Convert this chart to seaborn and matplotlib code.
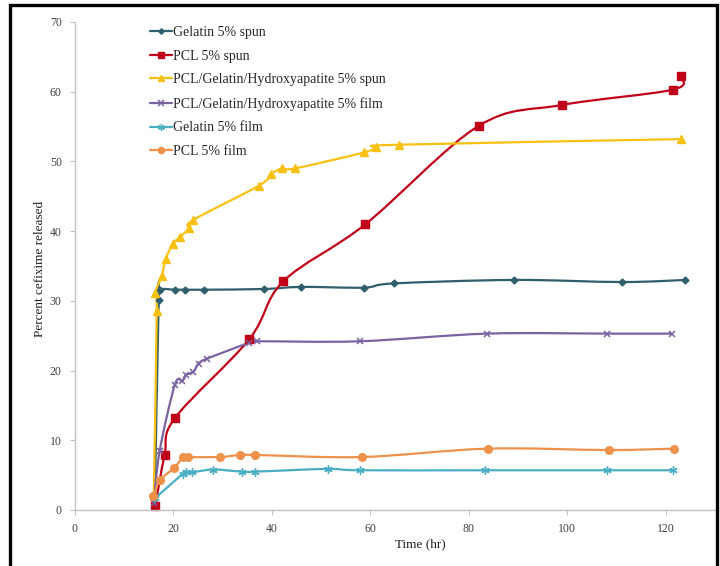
import numpy as np
import pandas as pd
import seaborn as sns
import matplotlib.pyplot as plt
from matplotlib.path import Path
from matplotlib.patches import PathPatch, Rectangle
from matplotlib.lines import Line2D

# release data (time in hr, percent released)
gel_spun_t = [16.2, 17.0, 17.3, 20.3, 22.4, 26.2, 38.4, 45.9, 58.7, 64.7, 89.1, 111.1, 124.0]
gel_spun_y = [0.8, 30.1, 31.6, 31.6, 31.6, 31.6, 31.7, 32.0, 31.9, 32.5, 33.0, 32.7, 33.0]

pcl_spun_t = [16.3, 18.2, 20.3, 35.4, 42.3, 59.0, 82.0, 98.9, 121.5, 123.0]
pcl_spun_y = [0.6, 7.9, 13.2, 24.5, 32.8, 41.0, 55.1, 58.1, 60.3, 62.2]

pgh_spun_t = [16.0, 16.6, 16.3, 17.6, 18.4, 19.9, 21.4, 23.2, 24.0, 37.3, 39.9, 42.1, 44.7, 58.8, 61.2, 65.9, 123.0]
pgh_spun_y = [2.0, 28.5, 31.1, 33.5, 36.0, 38.2, 39.2, 40.4, 41.6, 46.5, 48.2, 49.0, 49.0, 51.3, 52.0, 52.4, 53.2]

pgh_film_t = [16.0, 17.2, 20.3, 21.8, 22.6, 24.0, 25.1, 26.8, 35.4, 37.0, 57.8, 83.7, 108.1, 121.3]
pgh_film_y = [1.0, 8.5, 18.0, 18.5, 19.4, 19.8, 21.0, 21.7, 24.0, 24.2, 24.2, 25.3, 25.3, 25.3]

gel_film_t = [16.3, 21.9, 22.6, 23.7, 28.1, 33.9, 36.6, 51.3, 57.8, 83.3, 108.1, 121.5]
gel_film_y = [1.7, 5.2, 5.4, 5.4, 5.8, 5.5, 5.5, 5.9, 5.7, 5.7, 5.7, 5.7]

pcl_film_t = [15.9, 17.3, 20.1, 22.0, 22.9, 29.5, 33.5, 36.6, 58.3, 83.8, 108.4, 121.6]
pcl_film_y = [2.0, 4.3, 6.0, 7.6, 7.6, 7.6, 7.9, 7.9, 7.6, 8.8, 8.6, 8.8]

labels = ["Gelatin 5% spun", "PCL 5% spun", "PCL/Gelatin/Hydroxyapatite 5% spun",
          "PCL/Gelatin/Hydroxyapatite 5% film", "Gelatin 5% film", "PCL 5% film"]

sns.set_theme(style="white")
plt.rcParams['font.family'] = ['Liberation Serif', 'DejaVu Serif']


def smooth_path(x, y):
    # Excel style smoothed line: cubic bezier segments through the points
    pts = np.column_stack([x, y]).astype(float)
    n = len(pts)
    verts = [pts[0]]
    codes = [Path.MOVETO]
    for i in range(n - 1):
        p0 = pts[i - 1] if i > 0 else pts[i]
        p1 = pts[i]
        p2 = pts[i + 1]
        p3 = pts[i + 2] if i + 2 < n else pts[i + 1]
        verts += [p1 + (p2 - p0) / 6, p2 - (p3 - p1) / 6, p2]
        codes += [Path.CURVE4] * 3
    return Path(verts, codes)


series = [
    (gel_spun_t, gel_spun_y, '#2F5E6C', 'D', 3.5, 1.0),
    (pcl_spun_t, pcl_spun_y, '#C00018', 's', 5.5, 1.0),
    (pgh_spun_t, pgh_spun_y, '#F8C010', '^', 6, 1.0),
    (pgh_film_t, pgh_film_y, '#7A63A0', 'x', 5, 1.1),
    (gel_film_t, gel_film_y, '#4AAEC4', (6, 2, 0), 6, 1.0),
    (pcl_film_t, pcl_film_y, '#EE914A', 'o', 5.5, 1.0),
]

fig = plt.figure(figsize=(7.2, 5.66), dpi=100)
ax = fig.add_axes([75 / 720, 1 - 510 / 566, 640 / 720, 488 / 566])

handles = []
for (t, y, col, mk, ms, mew), lab in zip(series, labels):
    ax.add_patch(PathPatch(smooth_path(t, y), fill=False, edgecolor=col, lw=1.6,
                           capstyle='round', joinstyle='round'))
    df = pd.DataFrame({'t': t, 'y': y})
    sns.lineplot(data=df, x='t', y='y', ax=ax, sort=False, estimator=None,
                 linestyle='', marker=mk, markersize=ms, color=col,
                 markeredgecolor=col, markeredgewidth=mew, clip_on=False)
    handles.append(Line2D([], [], color=col, lw=1.6, marker=mk, markersize=ms * 0.8,
                          markeredgecolor=col, markeredgewidth=mew, label=lab))

ax.set_xlim(0, 130)
ax.set_ylim(0, 70)
ax.set_xticks(range(0, 121, 20))
ax.set_yticks(range(0, 71, 10))
for side in ['top', 'right']:
    ax.spines[side].set_visible(False)
for side in ['left', 'bottom']:
    ax.spines[side].set_color('#C0C0C0')
    ax.spines[side].set_linewidth(1.0)
ax.tick_params(axis='both', direction='out', length=3.5, width=0.8, color='#C0C0C0',
               labelsize=8.5, labelcolor='#404040')
ax.tick_params(axis='y', pad=6, left=True)
ax.tick_params(axis='x', pad=6, bottom=True)

ax.set_xlabel('Time (hr)', fontsize=9.5, color='#202020')
ax.set_ylabel('Percent cefixime released', fontsize=9.5, color='#202020')
ax.xaxis.set_label_coords(0.539, -0.057)
ax.yaxis.set_label_coords(-0.046, 0.494)

ax.legend(handles=handles, loc='upper left', bbox_to_anchor=(0.117, 0.992), frameon=False,
          fontsize=10, handlelength=1.6, handletextpad=0.05, labelspacing=0.77,
          borderpad=0, borderaxespad=0)

# black frame around the whole chart
fig.patches.append(Rectangle((10 / 720, -0.05), 707 / 720, 1.05 - 5 / 566, fill=False,
                             edgecolor='black', lw=2.4, transform=fig.transFigure,
                             figure=fig))

fig.savefig('out.png', dpi=100)
